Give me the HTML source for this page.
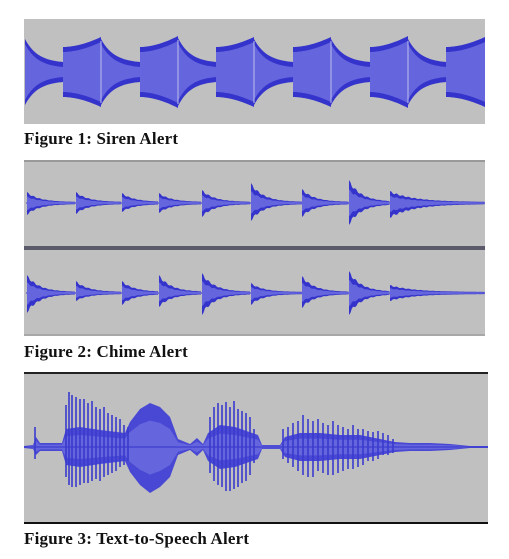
<!DOCTYPE html>
<html><head><meta charset="utf-8">
<style>
body{margin:0;background:#fff;width:509px;height:559px;overflow:hidden;position:relative;font-family:"Liberation Serif",serif;}
.cap{position:absolute;left:24px;font-weight:bold;font-size:17px;color:#111;white-space:nowrap;letter-spacing:0.2px;}
svg{position:absolute;left:0;top:0;}
</style></head><body>
<svg id="s" width="509" height="559"></svg>
<div class="cap" style="top:129px">Figure 1: Siren Alert</div>
<div class="cap" style="top:342px">Figure 2: Chime Alert</div>
<div class="cap" style="top:529px">Figure 3: Text-to-Speech Alert</div>
<script>
// Siren data
const sirenBounds=[25,63,101,140,178,216,254,293,331,370,408,446,485];
const sirenStartAmp=[33,25,33,25,34,25,33,25,33,25,33,25];
const sirenEndAmp=[10,35,10,36,10,35,10,35,10,36,10,35];
const sirenKind=['decay','rise','decay','rise','decay','rise','decay','rise','decay','rise','decay','rise'];
// Chime data
const chimeOnsets=[27,76,122,159,202,251,302,349,390];
const chime1Top=[11,11,10,10,13,20,14,23,12];
const chime1Bot=[12,11,9,10,14,18,14,22,15];
const chime2Top=[18,12,12,18,20,10,17,22,8];
const chime2Bot=[20,8,12,14,22,12,15,22,8];
// Speech envelope
const ttsEnvX=[24,33,36,40,62,66,80,100,125,130,140,150,160,170,178,190,197,203,208,220,235,258,262,280,285,300,320,340,360,380,395,410,430,450,470,488];
const ttsEnvTop=[1,2,10,4,4,18,20,17,14,25,38,44,40,30,8,3,9,3,14,22,20,12,2,2,10,14,14,12,12,8,5,4,4,3,1,1];
const ttsEnvBot=[1,2,8,4,4,18,20,17,14,25,38,46,40,30,8,3,9,3,14,22,20,12,2,2,10,14,14,12,12,8,5,4,4,3,1,1];
const ttsSpikeX=[35,66,69,72,76,80,84,88,92,96,100,104,108,112,116,120,124,128,210,214,218,222,226,230,234,238,242,246,250,254,283,288,293,298,303,308,313,318,323,328,333,338,343,348,353,358,363,368,373,378,383,388,393];
const ttsSpikeUp=[20,42,55,52,50,48,48,44,46,40,38,40,34,32,30,28,22,20,30,40,44,42,45,40,46,38,36,34,30,18,18,20,24,26,32,28,26,28,24,22,26,22,20,18,22,18,18,16,15,16,14,12,8];
const ttsSpikeDown=[12,30,38,40,40,38,36,36,34,32,34,30,28,26,24,20,18,14,26,34,38,40,44,44,42,40,36,34,28,16,12,16,20,24,28,30,30,24,26,28,28,26,24,22,22,20,18,14,14,12,8,8,6];

const svg=document.getElementById('s');
const NS='http://www.w3.org/2000/svg';
function el(t,a){const e=document.createElementNS(NS,t);for(const k in a)e.setAttribute(k,a[k]);svg.appendChild(e);return e;}
const DARK='#3434cc',LIGHT='#6565dd';

// panel 1
let r=el('rect',{x:24,y:19,width:461,height:105,fill:'#c0c0c0'});


const c1=72;
for(let i=0;i<sirenKind.length;i++){
  const x0=sirenBounds[i],x1=sirenBounds[i+1];
  const a0=sirenStartAmp[i],a1=sirenEndAmp[i];
  const pts=[];const n=20;
  for(let j=0;j<=n;j++){const t=j/n;let f;
    if(sirenKind[i]==='decay')f=1-(1-Math.exp(-3*t))/(1-Math.exp(-3));
    else f=1-Math.pow(t,1.8);
    pts.push([x0+t*(x1-x0),a1+(a0-a1)*f]);}
  const outer=pts.map(p=>p[0]+','+(c1-p[1])).concat(pts.slice().reverse().map(p=>p[0]+','+(c1+p[1]))).join(' ');
  const inner=pts.map(p=>p[0]+','+(c1-p[1]+5)).concat(pts.slice().reverse().map(p=>p[0]+','+(c1+p[1]-5))).join(' ');
  let o=el('polygon',{points:outer,fill:DARK});
  
  
  el('polygon',{points:inner,fill:LIGHT});
  if(sirenKind[i]==='decay'&&i>0)el('line',{x1:x0,x2:x0,y1:c1-a0+2,y2:c1+a0-2,stroke:'#d8d8f0','stroke-width':0.8});
}

// panel 2
r=el('rect',{x:24,y:161,width:461,height:174,fill:'#c0c0c0'});


el('rect',{x:24,y:160,width:461,height:2,fill:'#999'});
el('rect',{x:24,y:246,width:461,height:4,fill:'#5a5a6a'});
el('rect',{x:24,y:334,width:461,height:2,fill:'#a8a8a8'});
function chime(center,tops,bots,name){
  el('line',{x1:26,x2:485,y1:center,y2:center,stroke:DARK,'stroke-width':1});
  for(let i=0;i<chimeOnsets.length;i++){
    const x0=chimeOnsets[i],x1=i+1<chimeOnsets.length?chimeOnsets[i+1]:485;
    const tau=i+1<chimeOnsets.length?13:25;
    const up=[],dn=[];
    for(let x=x0;x<=x1;x+=1.5){const d=Math.exp(-(x-x0)/tau);
      const rip=(Math.floor((x-x0)/3)%2)?0.85:1;
      up.push([x,1+(tops[i]-1)*d*rip]);dn.push([x,1+(bots[i]-1)*d*rip]);}
    const pts=up.map(p=>p[0]+','+(center-p[1])).concat(dn.slice().reverse().map(p=>p[0]+','+(center+p[1]))).join(' ');
    const inner=up.map(p=>p[0]+','+(center-p[1]*0.6)).concat(dn.slice().reverse().map(p=>p[0]+','+(center+p[1]*0.6))).join(' ');
    let o=el('polygon',{points:pts,fill:DARK});
    
    
    el('polygon',{points:inner,fill:LIGHT});
  }
}
chime(203,chime1Top,chime1Bot,'chime-left');
chime(293,chime2Top,chime2Bot,'chime-right');

// panel 3
r=el('rect',{x:24,y:373,width:464,height:150,fill:'#c0c0c0'});


el('rect',{x:24,y:372,width:464,height:2,fill:'#222'});
el('rect',{x:24,y:522,width:464,height:2,fill:'#111'});
const c3=447;
const envOuter=ttsEnvX.map((x,i)=>x+','+(c3-ttsEnvTop[i])).concat(ttsEnvX.slice().reverse().map((x,k)=>{const i=ttsEnvX.length-1-k;return x+','+(c3+ttsEnvBot[i]);})).join(' ');
let env=el('polygon',{points:envOuter,fill:'#4848d4'});


const envIn=ttsEnvX.map((x,i)=>x+','+(c3-ttsEnvTop[i]*0.6)).concat(ttsEnvX.slice().reverse().map((x,k)=>{const i=ttsEnvX.length-1-k;return x+','+(c3+ttsEnvBot[i]*0.6);})).join(' ');
el('polygon',{points:envIn,fill:LIGHT});
el('line',{x1:24,x2:488,y1:c3,y2:c3,stroke:DARK,'stroke-width':1});
for(let i=0;i<ttsSpikeX.length;i++){
  const l=el('line',{x1:ttsSpikeX[i],x2:ttsSpikeX[i],y1:c3-ttsSpikeUp[i],y2:c3+ttsSpikeDown[i],stroke:'#3a3ace','stroke-width':1.6});
  
  
}
</script>
</body></html>
